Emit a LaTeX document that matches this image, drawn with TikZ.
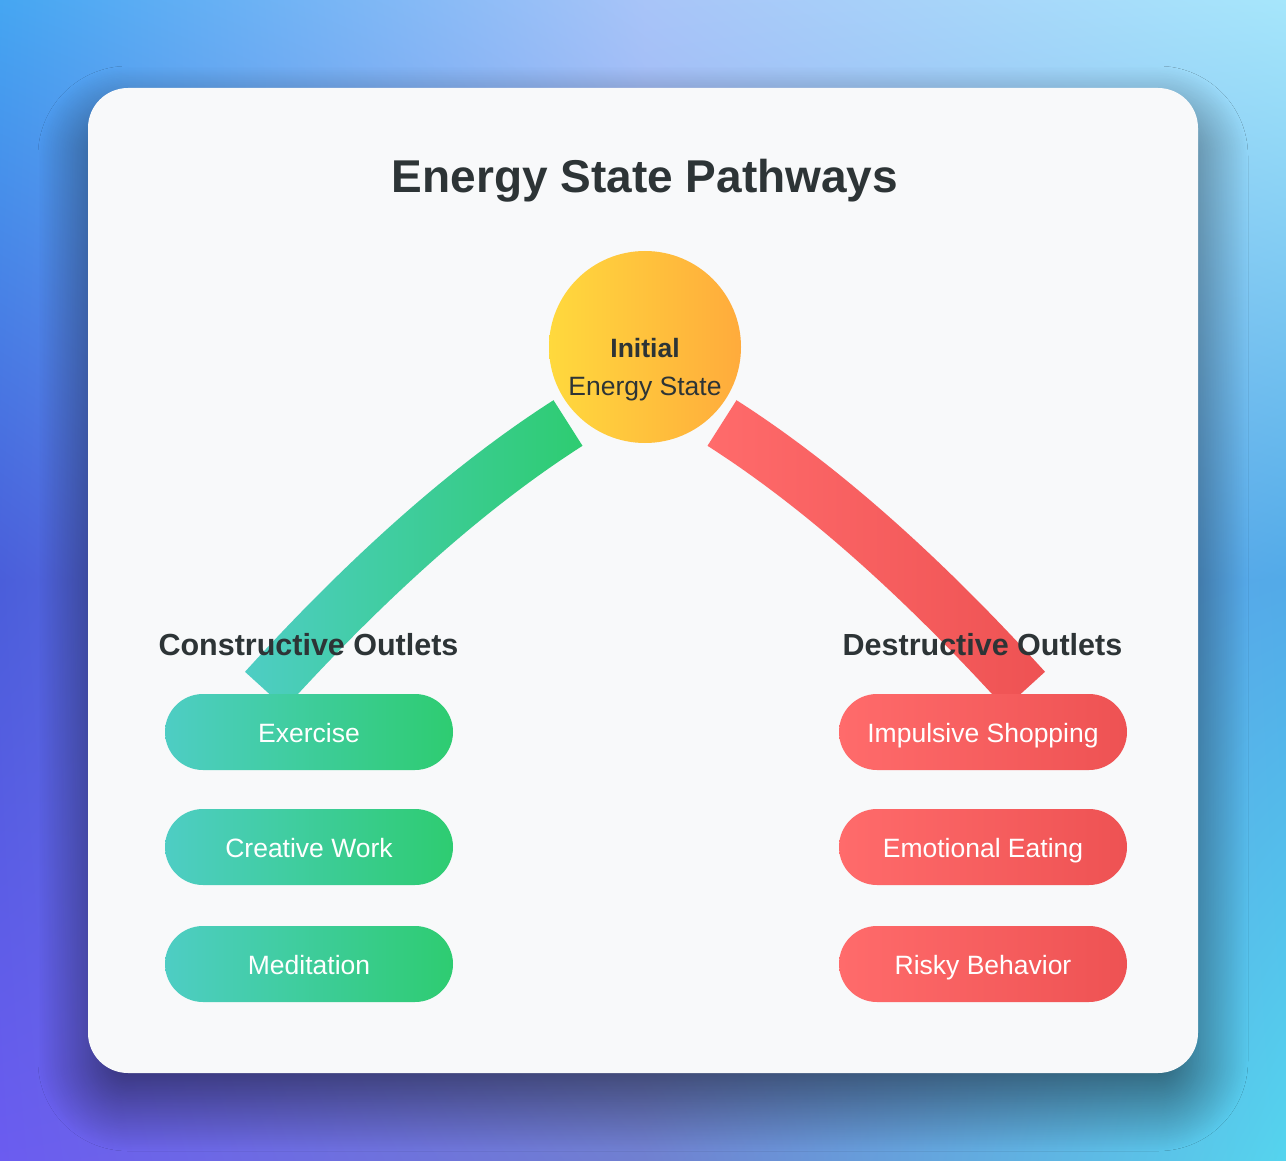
\documentclass[tikz,border=0pt]{standalone}
\usepackage{fontspec}
\setmainfont{Liberation Sans}
\usetikzlibrary{shadings,shadows.blur}
\definecolor{bgA}{HTML}{45A6F2}
\definecolor{bgB}{HTML}{A8C4F8}
\definecolor{bgC}{HTML}{A6E6FB}
\definecolor{bgD}{HTML}{4A5EDA}
\definecolor{bgE}{HTML}{8C9CF0}
\definecolor{bgF}{HTML}{52AAE8}
\definecolor{bgG}{HTML}{6B5CF0}
\definecolor{bgH}{HTML}{7080D0}
\definecolor{bgI}{HTML}{55D4EE}
\definecolor{card}{HTML}{F8F9FA}
\definecolor{ink}{HTML}{2D3436}
\definecolor{tealA}{HTML}{4ECDC4}
\definecolor{greenB}{HTML}{2ECC71}
\definecolor{redA}{HTML}{FF6B6B}
\definecolor{redB}{HTML}{EE5253}
\definecolor{yelA}{HTML}{FFD93D}
\definecolor{orgB}{HTML}{FFAB3C}
\begin{document}
\begin{tikzpicture}[x=1pt,y=-1pt,
  pill/.style={rectangle, rounded corners=38pt, minimum width=288pt, minimum height=76pt,
    inner sep=0pt, text=white, text height=26pt, text depth=6pt,
    font=\fontsize{26.5}{30}\selectfont},
  goodpill/.style={pill, left color=tealA, right color=greenB},
  badpill/.style={pill, left color=redA, right color=redB},
  heading/.style={font=\bfseries\fontsize{30.5}{36}\selectfont, text=ink, anchor=base, inner sep=0pt},
  goodband/.style={left color=tealA, right color=greenB},
  badband/.style={left color=redA, right color=redB}
]
\useasboundingbox (0,0) rectangle (1286,1161);
% background (2x2 bilinear patches)
\shade[upper left=bgA, upper right=bgB, lower left=bgD, lower right=bgE] (0,0) rectangle (645.5,580.5);
\shade[upper left=bgB, upper right=bgC, lower left=bgE, lower right=bgF] (644.5,0) rectangle (1286,580.5);
\shade[upper left=bgD, upper right=bgE, lower left=bgG, lower right=bgH] (0,579.5) rectangle (645.5,1161);
\shade[upper left=bgE, upper right=bgF, lower left=bgH, lower right=bgI] (644.5,579.5) rectangle (1286,1161);
% card
\path[fill=card, rounded corners=40pt,
  blur shadow={shadow xshift=0pt, shadow yshift=-28pt, shadow blur radius=50pt,
    shadow opacity=55, shadow blur steps=90, shadow blur extra rounding=40pt}]
  (88,88) rectangle (1198,1073);
% title
\node[font=\bfseries\fontsize{46}{55}\selectfont, text=ink, anchor=base, inner sep=0pt] (title) at (645,193) {Energy State Pathways};
% bands
\shade[goodband] (553.5,400.2) .. controls (455.4,462.9) and (352.6,553.4) .. (245,671.8)
  -- (285,708.2) .. controls (389.4,593.3) and (488.6,505.8) .. (582.5,445.8) -- cycle;
\shade[badband] (736.5,400.2) .. controls (834.6,462.9) and (937.4,553.4) .. (1045,671.8)
  -- (1005,708.2) .. controls (900.6,593.3) and (801.4,505.8) .. (707.5,445.8) -- cycle;
% initial state
\node[circle, minimum size=192pt, inner sep=0pt, left color=yelA, right color=orgB] (init) at (645,347) {};
\node[align=center, text=ink, inner sep=0pt, font=\fontsize{26.5}{38}\selectfont, anchor=base] (initText) at (645,395)
  {\textbf{Initial}\\Energy State};
% headings
\node[heading] (consH) at (308.5,655) {Constructive Outlets};
\node[heading] (destH) at (982.5,655) {Destructive Outlets};
% pills
\node[goodpill] (ex) at (309,732) {Exercise};
\node[goodpill] (cw) at (309,847) {Creative Work};
\node[goodpill] (med) at (309,964) {Meditation};
\node[badpill] (shop) at (983,732) {Impulsive Shopping};
\node[badpill] (eat) at (983,847) {Emotional Eating};
\node[badpill] (risk) at (983,964) {Risky Behavior};
\end{tikzpicture}
\end{document}
